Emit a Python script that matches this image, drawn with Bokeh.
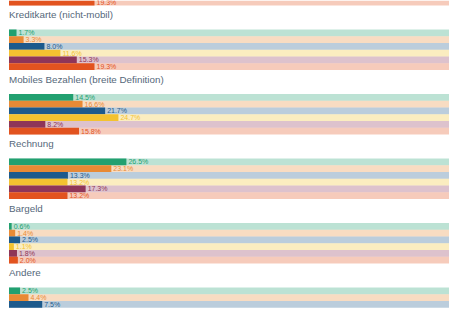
from bokeh.plotting import figure
from bokeh.models import Range1d, ColumnDataSource
from bokeh.core.properties import value
from bokeh.embed import file_html
from bokeh.resources import INLINE

# Data (percent shares per payment method, six series each)
categories = ["Kreditkarte (nicht-mobil)", "Mobiles Bezahlen (breite Definition)",
              "Rechnung", "Bargeld", "Andere"]
series_colors = ["#22a070", "#e88a35", "#1d5a8c", "#f3c230", "#8e3558", "#e2531f"]
previous_group_last = 19.3  # last bar of the group above, cut off at the top
kreditkarte = [1.7, 3.3, 8.0, 11.6, 15.3, 19.3]
mobiles = [14.5, 16.6, 21.7, 24.7, 8.2, 15.8]
rechnung = [26.5, 23.1, 13.3, 13.2, 17.3, 13.2]
bargeld = [0.6, 1.4, 2.5, 1.1, 1.8, 2.0]
andere = [2.5, 4.4, 7.5]
values = [kreditkarte, mobiles, rechnung, bargeld, andere]
track_max = 100.0

W, H = 449, 312
px_per_pct = 4.43
x0_px = 8.5
group_start = 29.0
group_period = 64.5
slot = 6.75
label_gap = 15.0

p = figure(width=W, height=H, output_backend="svg", toolbar_location=None,
           x_range=Range1d(-x0_px / px_per_pct, (W - x0_px) / px_per_pct),
           y_range=Range1d(H, 0),
           min_border=0, min_border_left=0, min_border_right=0,
           min_border_top=0, min_border_bottom=0)
p.axis.visible = False
p.grid.visible = False
p.outline_line_color = None
p.background_fill_color = "white"
p.border_fill_color = "white"

by, br, bc, lx, ly, lt, lc = [], [], [], [], [], [], []
cy, ct = [], []

# sliver of the previous group's last bar
prev_y = group_start - group_period + slot * 5.5
by.append(prev_y); br.append(previous_group_last); bc.append(series_colors[5])
lx.append(previous_group_last); ly.append(prev_y)
lt.append(f"{previous_group_last:.1f}%"); lc.append(series_colors[5])

for g, (cat, vals) in enumerate(zip(categories, values)):
    top = group_start + g * group_period
    cy.append(top - label_gap)
    ct.append(cat)
    for i, v in enumerate(vals):
        yc = top + slot * (i + 0.5)
        by.append(yc)
        br.append(v)
        bc.append(series_colors[i])
        lx.append(v)
        ly.append(yc)
        lt.append(f"{v:.1f}%")
        lc.append(series_colors[i])

src = ColumnDataSource(dict(y=by, left=[0] * len(by), right=br, color=bc,
                            track=[track_max] * len(by)))
p.hbar(y="y", left="left", right="track", height=slot * 0.98, color="color",
       fill_alpha=0.3, line_color=None, source=src)
p.hbar(y="y", left="left", right="right", height=slot * 0.98, color="color",
       line_color=None, source=src)

lsrc = ColumnDataSource(dict(x=lx, y=ly, text=lt, color=lc))
p.text(x="x", y="y", text="text", text_color="color", source=lsrc,
       text_font=value("Liberation Sans"), text_font_size="7px",
       text_baseline="middle", text_align="left", x_offset=2)

csrc = ColumnDataSource(dict(x=[0] * len(cy), y=cy, text=ct))
p.text(x="x", y="y", text="text", text_color="#55687a", source=csrc,
       text_font=value("Liberation Sans"), text_font_size="9.8px",
       text_baseline="middle", text_align="left", x_offset=0)

open("out.html", "w").write(file_html(p, INLINE))
